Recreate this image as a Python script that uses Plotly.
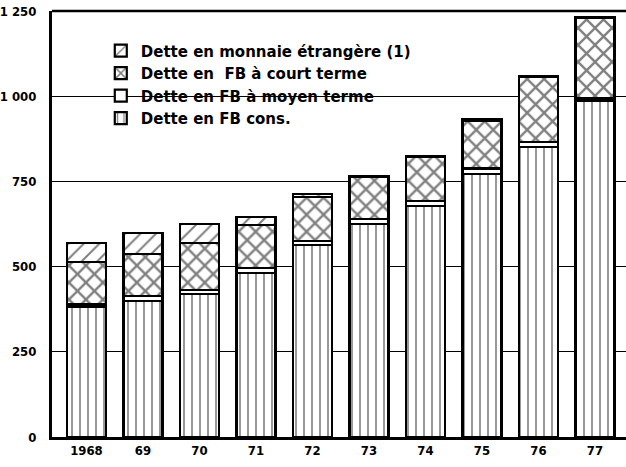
import plotly.graph_objects as go

years = ["1968", "69", "70", "71", "72", "73", "74", "75", "76", "77"]
cons = [383, 399, 420, 482, 563, 625, 679, 772, 850, 985]
moyen = [7, 15, 11, 13, 13, 15, 14, 16, 16, 8]
court = [124, 123, 139, 127, 129, 122, 129, 141, 190, 237]
etrangere = [56, 61, 55, 23, 8, 5, 3, 3, 3, 3]

names = ["Dette en FB cons.", "Dette en FB à moyen terme",
         "Dette en  FB à court terme", "Dette en monnaie étrangère (1)"]
y_tickvals = [0, 250, 500, 750, 1000, 1250]
y_ticktext = ["0", "250", "500", "750", "1 000", "1 250"]

series = [cons, moyen, court, etrangere]
patterns = [dict(shape="|", size=8, solidity=0.2),
            dict(shape=""),
            dict(shape="x", size=12, solidity=0.35),
            dict(shape="/", size=11, solidity=0.18)]

x = list(range(len(years)))
fig = go.Figure()
for vals, name, pat in zip(series, names, patterns):
    p = dict(pat)
    p.update(fgcolor="black", bgcolor="white")
    fig.add_trace(go.Bar(
        x=x, y=vals, name=name, width=0.69,
        marker=dict(color="white", pattern=p,
                    line=dict(color="black", width=2.2)),
    ))

fig.update_layout(
    barmode="stack",
    width=626, height=467,
    margin=dict(l=52, r=0, t=11, b=30),
    plot_bgcolor="white", paper_bgcolor="white",
    font=dict(family="DejaVu Sans", color="black"),
    legend=dict(x=0.085, y=0.945, xanchor="left", yanchor="top",
                traceorder="reversed", bgcolor="rgba(0,0,0,0)",
                font=dict(size=15, family="DejaVu Sans", color="black", weight="bold"),
                itemwidth=30, tracegroupgap=0),
    showlegend=True,
)
tick_font = dict(family="Liberation Sans Narrow, DejaVu Sans Condensed", size=13, weight="bold")
fig.update_xaxes(
    range=[-0.61, 9.55], tickvals=x, ticktext=years,
    showgrid=False, showline=True, linecolor="black", linewidth=2.5,
    ticks="", tickfont=tick_font, zeroline=False, automargin=False,
)
fig.update_yaxes(
    range=[0, 1250], tickvals=y_tickvals, ticktext=y_ticktext,
    showgrid=True, gridcolor="black", gridwidth=1,
    showline=True, linecolor="black", linewidth=3,
    ticks="", ticklabelstandoff=10, tickfont=tick_font,
    zeroline=False, automargin=False,
)
fig.add_shape(type="line", xref="paper", yref="paper", x0=0, x1=1, y0=1, y1=1,
              line=dict(color="black", width=2.5))

fig.write_html("out.html", config={"displayModeBar": False},
               post_script="document.body.style.margin='0';")
